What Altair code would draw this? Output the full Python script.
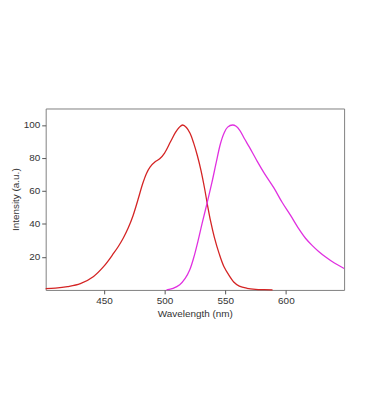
import altair as alt
import pandas as pd

exc_wl = [402, 410, 420, 430.6, 441.5, 449.7, 457.9, 462, 466, 470, 474, 478, 482, 485, 488, 492, 496, 500, 505, 509, 512, 515, 518, 521, 524, 527, 530, 533, 535.5, 538, 541, 545, 549, 553.4, 557, 561.6, 568, 575, 582, 589]
exc_val = [0.8, 1.1, 2.0, 3.8, 8.2, 14.1, 22.1, 26.5, 31.5, 37.5, 45, 54.5, 64.5, 70.5, 74.5, 77.5, 79.5, 83, 90, 95.5, 98.5, 100, 98.5, 95, 89, 81.5, 72.5, 61.5, 51, 41.5, 32, 22, 14, 8.5, 4.8, 2.3, 1, 0.4, 0.2, 0.1]

em_wl = [501.6, 507, 512.5, 517, 520.7, 524, 527.5, 531, 535, 539, 542.5, 546, 549, 552, 556.1, 559, 562, 566, 569.8, 576, 582, 590, 597, 604, 610.7, 616, 621.6, 627, 632.5, 640, 648]
em_val = [0, 1, 3.2, 7, 12.1, 19.5, 29.5, 40.5, 52.5, 65, 77, 88.5, 95, 98.7, 100, 99.2, 96.8, 91.5, 86.7, 78.5, 71, 62, 53, 45, 37, 31.5, 27, 23.3, 20.1, 16.3, 13]

df = pd.concat([
    pd.DataFrame({"wl": exc_wl, "val": exc_val, "s": "Excitation"}),
    pd.DataFrame({"wl": em_wl, "val": em_val, "s": "Emission"}),
])

chart = alt.Chart(df).mark_line(strokeWidth=1.3, interpolate="catmull-rom").encode(
    x=alt.X("wl:Q", title="Wavelength (nm)",
            scale=alt.Scale(domain=[402, 648], nice=False, zero=False),
            axis=alt.Axis(values=[450, 500, 550, 600], grid=False)),
    y=alt.Y("val:Q", title="Intensity (a.u.)",
            scale=alt.Scale(domain=[0, 110], nice=False),
            axis=alt.Axis(values=[20, 40, 60, 80, 100], grid=False)),
    color=alt.Color("s:N", scale=alt.Scale(domain=["Excitation", "Emission"], range=["#d42424", "#e030e0"]), legend=None),
    detail="s:N",
).properties(
    width=301, height=183,
    background="white",
    padding={"left": 2, "top": 100, "right": 10, "bottom": 5},
).configure_view(
    stroke="#808080", strokeWidth=1
).configure_axis(
    labelFont="Liberation Sans", titleFont="Liberation Sans",
    labelFontSize=10, titleFontSize=10, titleFontWeight="normal",
    labelColor="#333333", titleColor="#333333",
    domain=False, tickColor="#555555", tickSize=4, labelPadding=2, titlePadding=3,
)

chart.save("out.html", embed_options={"renderer": "svg", "actions": False})
